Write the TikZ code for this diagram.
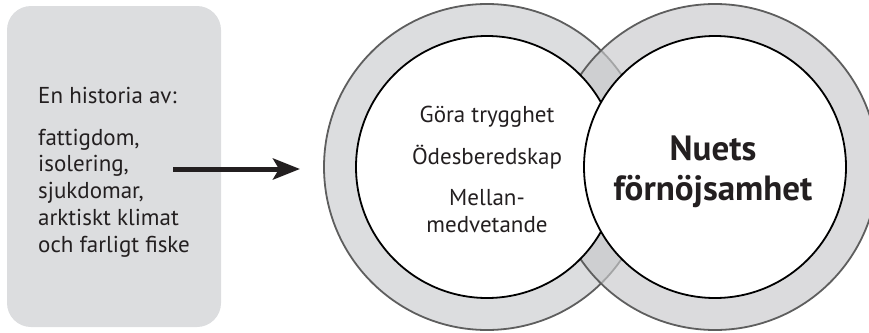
\documentclass[tikz,border=0pt]{standalone}
\usepackage{fontspec}
\setmainfont{PT Sans}
\usetikzlibrary{arrows.meta}
\definecolor{panelgray}{HTML}{DCDDDF}
\definecolor{ringfront}{HTML}{C8C9CB}
\definecolor{ringline}{HTML}{5E5E5E}
\definecolor{ink}{HTML}{231F20}
\begin{document}
\begin{tikzpicture}[x=1pt,y=-1pt,
  ring/.style={circle, minimum size=326pt, inner sep=0pt, draw=ringline, line width=1.8pt},
  core/.style={circle, minimum size=262pt, inner sep=0pt, fill=white, draw=black, line width=1.8pt},
  txt/.style={text=ink, font=\fontsize{23}{26.7}\selectfont, inner sep=0pt},
  bold/.style={text=ink, font=\fontsize{35}{40}\selectfont\bfseries, inner sep=0pt}]
\useasboundingbox (0,0) rectangle (869,332);
\clip (0,0) rectangle (869,332);

% left panel with the background story
\node[fill=panelgray, rounded corners=24pt, minimum width=214pt, minimum height=321pt, inner sep=0pt] (panel) at (114,166.5) {};
\node[txt, anchor=base west] (story) at (38,103) {En historia av:};
% multi-line nodes sit on the baseline of their last line
\node[txt, anchor=base west, align=left] (list) at (38,252)
  {fattigdom,\\isolering,\\sjukdomar,\\arktiskt klimat\\och farligt fiske};

% two overlapping rings
\node[ring, fill=panelgray] (lring) at (487,167) {};
\node[ring, fill=ringfront, fill opacity=0.66] (rring) at (715,167) {};
\node[core] (lcore) at (487,167) {};
\node[core] (rcore) at (715,167) {};

% texts inside the circles
\node[txt, anchor=base] (t1) at (487,122) {Göra trygghet};
\node[txt, anchor=base] (t2) at (487,164) {Ödesberedskap};
\node[txt, anchor=base, align=center] (t3) at (487,232) {Mellan-\\medvetande};
\node[bold, anchor=base, align=center] (t4) at (713,200) {Nuets\\förnöjsamhet};

% arrow from the panel towards the rings
\coordinate (tail) at (173,169);
\coordinate (tip) at (300,169);
\draw[ink, line width=5pt, -{Stealth[length=27pt, width=21pt, inset=6pt]}] (tail) -- (tip);
\end{tikzpicture}
\end{document}
